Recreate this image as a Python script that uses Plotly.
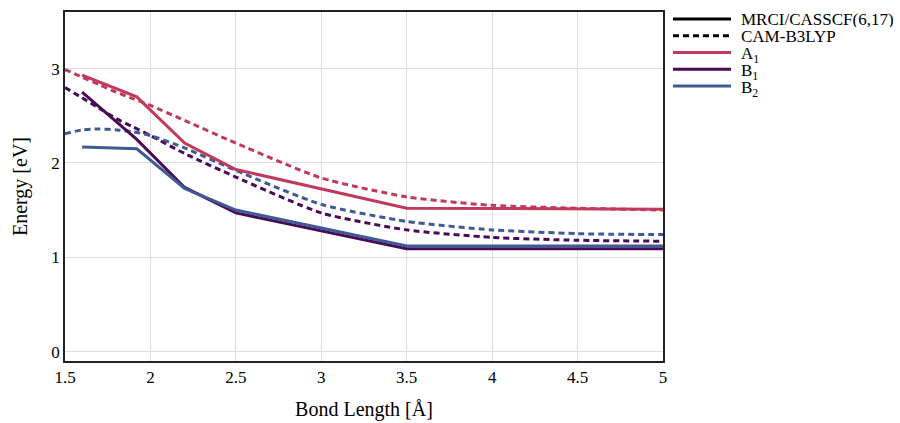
import plotly.graph_objects as go

# MRCI/CASSCF(6,17) data (solid)
x_mrci = [1.6, 1.92, 2.2, 2.5, 3.5, 5.0]
a1_mrci = [2.93, 2.70, 2.21, 1.93, 1.52, 1.51]
b1_mrci = [2.75, 2.25, 1.74, 1.47, 1.09, 1.09]
b2_mrci = [2.17, 2.15, 1.73, 1.50, 1.12, 1.12]

# CAM-B3LYP data (dashed)
x_cam = [1.5, 1.6, 1.7, 1.8, 1.9, 2.0, 2.2, 2.5, 3.0, 3.5, 4.0, 4.5, 5.0]
a1_cam = [2.99, 2.91, 2.83, 2.75, 2.68, 2.61, 2.45, 2.21, 1.84, 1.64, 1.55, 1.52, 1.50]
b1_cam = [2.80, 2.69, 2.58, 2.47, 2.38, 2.29, 2.10, 1.85, 1.47, 1.29, 1.21, 1.18, 1.17]
b2_cam = [2.31, 2.35, 2.36, 2.35, 2.33, 2.29, 2.16, 1.92, 1.56, 1.38, 1.29, 1.25, 1.24]

states = ["A<sub>1</sub>", "B<sub>1</sub>", "B<sub>2</sub>"]
colors = ["#c23a5b", "#4a0b56", "#3f5a94"]
legend_labels = ["MRCI/CASSCF(6,17)", "CAM-B3LYP"] + states
legend_colors = ["black", "black"] + colors
legend_dash = ["solid", "6px,4px", "solid", "solid", "solid"]

x_ticks = [1.5, 2, 2.5, 3, 3.5, 4, 4.5, 5]
y_ticks = [0, 1, 2, 3]

fig = go.Figure()
mrci = [a1_mrci, b1_mrci, b2_mrci]
cam = [a1_cam, b1_cam, b2_cam]
for i in range(3):
    fig.add_trace(go.Scatter(x=x_cam, y=cam[i], mode="lines", showlegend=False,
                             line=dict(color=colors[i], width=3, dash="6px,4px",
                                       shape="spline", smoothing=0.6)))
for i in range(3):
    fig.add_trace(go.Scatter(x=x_mrci, y=mrci[i], mode="lines", showlegend=False,
                             line=dict(color=colors[i], width=3)))

font = "Liberation Serif"

# legend drawn at the right of the plot (paper coordinates)
leg_y0 = 0.980
leg_dy = 0.048
for k, lab in enumerate(legend_labels):
    yy = leg_y0 - k * leg_dy
    fig.add_shape(type="line", xref="paper", yref="paper",
                  x0=1.0167, x1=1.1137, y0=yy, y1=yy,
                  line=dict(color=legend_colors[k], width=3, dash=legend_dash[k]))
    fig.add_annotation(xref="paper", yref="paper", x=1.127, y=yy,
                       xanchor="left", yanchor="middle", showarrow=False,
                       height=16, valign="middle",
                       text=lab, font=dict(family=font, size=17, color="black"),
                       yshift=(-3 if "<sub>" in lab else 0))

fig.update_layout(
    width=900, height=423,
    margin=dict(l=65, r=237, t=12, b=62, autoexpand=False),
    plot_bgcolor="white", paper_bgcolor="white",
    font=dict(family=font, size=17, color="black"),
    showlegend=False,
    xaxis=dict(range=[1.5, 5], tickvals=x_ticks, ticktext=[str(v) for v in x_ticks],
               showgrid=True, gridcolor="#dddddd", gridwidth=1,
               showline=True, linecolor="#222222", linewidth=1.5, mirror=True,
               zeroline=False, ticks="", automargin=False,
               title=dict(text="Bond Length [Å]", standoff=16)),
    yaxis=dict(range=[-0.1, 3.6], tickvals=y_ticks,
               showgrid=True, gridcolor="#dddddd", gridwidth=1,
               showline=True, linecolor="#222222", linewidth=1.5, mirror=True,
               zeroline=False, ticks="", automargin=False,
               title=dict(text="Energy [eV]", standoff=18)),
)

fig.write_html("out.html")
